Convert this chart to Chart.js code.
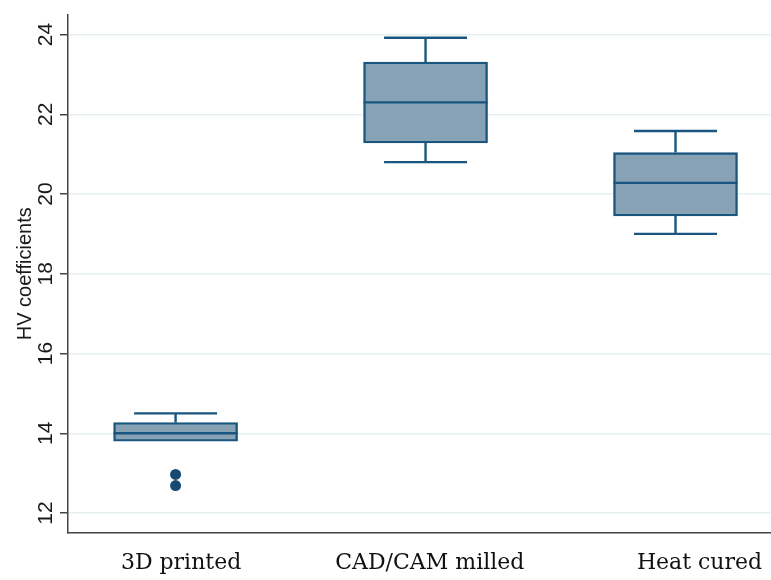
<!DOCTYPE html>
<html>
<head>
<meta charset="utf-8">
<script src="https://cdn.jsdelivr.net/npm/chart.js@4/dist/chart.umd.min.js"></script>
<style>
  html, body { margin: 0; padding: 0; background: #ffffff; }
  #wrap { width: 771px; height: 580px; position: relative; }
</style>
</head>
<body>
<div id="wrap"><canvas id="chart"></canvas></div>
<script>
// Vickers hardness (HV) by fabrication method
const categories  = ['3D printed', 'CAD/CAM milled', 'Heat cured'];
const whiskerLow  = [13.8, 20.8, 19.0];
const quartile1   = [13.8, 21.28, 19.45];
const medians     = [14.0, 22.3, 20.28];
const quartile3   = [14.27, 23.31, 21.04];
const whiskerHigh = [14.5, 23.92, 21.58];
const outliers    = [[12.97, 12.69], [], []];
const yTicks      = [12, 14, 16, 18, 20, 22, 24];

// styling
const FILL = '#87a1b5';
const EDGE = '#185680';
const DOT  = '#174a73';
const AXIS = '#444444';
const BOX_PX = 124;          // box width in pixels
const LINE_W = 2.4;          // box outline, median and whisker width
const CAP_HALF = 0.166;      // half whisker-cap width, x units
const labelShift = [0.022, 0.017, 0.096]; // nudge of category text, x units

// median line and whiskers, drawn through the chart scales
const boxLines = {
  id: 'boxLines',
  afterDatasetsDraw(chart) {
    const { ctx } = chart;
    const x = chart.scales.x, y = chart.scales.y;
    ctx.save();
    ctx.strokeStyle = EDGE;
    ctx.lineWidth = LINE_W;
    ctx.lineCap = 'butt';
    categories.forEach((c, i) => {
      const cx = x.getPixelForValue(i + 1);
      const capL = x.getPixelForValue(i + 1 - CAP_HALF);
      const capR = x.getPixelForValue(i + 1 + CAP_HALF);
      const half = BOX_PX / 2;
      ctx.beginPath();
      // median
      ctx.moveTo(cx - half, y.getPixelForValue(medians[i]));
      ctx.lineTo(cx + half, y.getPixelForValue(medians[i]));
      // upper whisker
      if (whiskerHigh[i] > quartile3[i]) {
        ctx.moveTo(cx, y.getPixelForValue(quartile3[i]));
        ctx.lineTo(cx, y.getPixelForValue(whiskerHigh[i]));
        ctx.moveTo(capL, y.getPixelForValue(whiskerHigh[i]));
        ctx.lineTo(capR, y.getPixelForValue(whiskerHigh[i]));
      }
      // lower whisker
      if (whiskerLow[i] < quartile1[i]) {
        ctx.moveTo(cx, y.getPixelForValue(quartile1[i]));
        ctx.lineTo(cx, y.getPixelForValue(whiskerLow[i]));
        ctx.moveTo(capL, y.getPixelForValue(whiskerLow[i]));
        ctx.lineTo(capR, y.getPixelForValue(whiskerLow[i]));
      }
      ctx.stroke();
    });
    ctx.restore();
  }
};

const outlierPoints = [];
outliers.forEach((list, i) => list.forEach(v => outlierPoints.push({ x: i + 1, y: v })));

new Chart(document.getElementById('chart'), {
  type: 'bar',
  data: {
    datasets: [
      {
        type: 'bar',
        data: categories.map((c, i) => ({ x: i + 1, y: [quartile1[i], quartile3[i]] })),
        backgroundColor: FILL,
        borderColor: EDGE,
        borderWidth: LINE_W,
        borderSkipped: false,
        barThickness: BOX_PX
      },
      {
        type: 'scatter',
        data: outlierPoints,
        pointRadius: 5.5,
        pointBackgroundColor: DOT,
        pointBorderWidth: 0
      }
    ]
  },
  options: {
    responsive: true,
    maintainAspectRatio: false,
    animation: false,
    layout: { autoPadding: false, padding: { top: 13, right: 0, left: 0, bottom: 0 } },
    plugins: { legend: { display: false }, tooltip: { enabled: false } },
    scales: {
      x: {
        type: 'linear',
        offset: false,
        min: 0.5696,
        max: 3.382,
        afterBuildTicks: s => { s.ticks = categories.map((c, i) => ({ value: i + 1 + labelShift[i] })); },
        afterFit: s => { s.height = 47; s.paddingLeft = 0; s.paddingRight = 0; },
        grid: { display: false, drawTicks: false, offset: false },
        border: { color: AXIS, width: 1.5 },
        ticks: {
          autoSkip: false,
          maxRotation: 0,
          minRotation: 0,
          padding: 17,
          color: '#111111',
          font: { family: 'DejaVu Serif', size: 22 },
          callback: (v, i) => categories[i]
        }
      },
      y: {
        min: 11.5,
        max: 24.5,
        afterBuildTicks: s => { s.ticks = yTicks.map(v => ({ value: v })); },
        afterFit: s => { s.width = 68; },
        grid: { color: '#e6eff2', lineWidth: 1.5, drawTicks: true, tickLength: 8, tickColor: AXIS, tickWidth: 1.5 },
        border: { color: AXIS, width: 1.5 },
        ticks: {
          minRotation: 90,
          maxRotation: 90,
          crossAlign: 'center',
          padding: 2,
          color: '#1a1a1a',
          font: { family: 'Liberation Sans', size: 21 },
          callback: v => String(v)
        },
        title: {
          display: true,
          text: 'HV coefficients',
          color: '#1a1a1a',
          font: { family: 'Liberation Sans', size: 20 },
          padding: { top: 13, bottom: 0 }
        }
      }
    }
  },
  plugins: [boxLines]
});
</script>
</body>
</html>
